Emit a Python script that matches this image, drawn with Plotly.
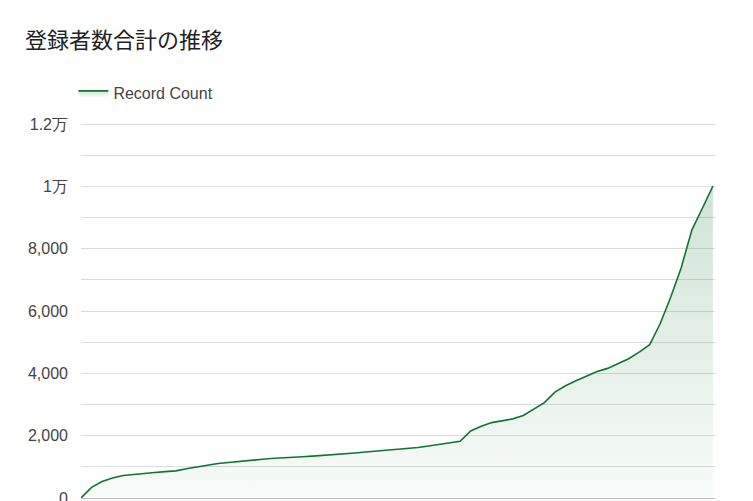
import plotly.graph_objects as go

# days since start (x is hidden in the reference, it is cropped at the bottom)
days = list(range(0, 61))
record_count = [0, 340, 530, 640, 720, 760, 795, 820, 845, 870,
                940, 1000, 1070, 1110, 1140, 1165, 1195, 1235, 1270, 1295,
                1310, 1325, 1345, 1365, 1385, 1415, 1445, 1475, 1500, 1525,
                1550, 1575, 1620, 1670, 1720, 1770, 1820, 2150, 2300, 2420,
                2480, 2540, 2650, 2850, 3060, 3400, 3600, 3760, 3900, 4060,
                4160, 4320, 4470, 4680, 4920, 5600, 6450, 7400, 8600, 9300,
                10010]

tick_vals = [0, 2000, 4000, 6000, 8000, 10000, 12000]
tick_text = ['0', '2,000', '4,000', '6,000', '8,000', '1万', '1.2万']

line_col = '#137333'

fig = go.Figure()
fig.add_trace(go.Scatter(
    x=days, y=record_count,
    mode='lines',
    name='Record Count',
    line=dict(color=line_col, width=1.6),
    fill='tozeroy',
    fillgradient=dict(type='vertical',
                      colorscale=[[0, 'rgba(19,115,51,0.03)'],
                                  [1, 'rgba(19,115,51,0.20)']]),
))

# page body has an 8px margin, so the figure is a bit smaller than the window
# y range goes a little past 12000 so the top gridline is still drawn
fig.update_layout(
    width=745, height=493,
    margin=dict(l=73, r=38, t=113, b=3, autoexpand=False),
    plot_bgcolor='white', paper_bgcolor='white',
    title=dict(text='登録者数合計の推移', x=17/745, xanchor='left',
               y=1 - 32/493, yanchor='middle',
               font=dict(family='Noto Sans CJK JP', size=22, color='#202124')),
    showlegend=True,
    legend=dict(orientation='h', x=-0.012, xanchor='left', y=1 + 28/377, yanchor='middle',
                font=dict(family='Liberation Sans', size=16, color='#444444'),
                itemwidth=30),
    xaxis=dict(range=[0, 60.2], showgrid=False, showticklabels=False,
               zeroline=False, showline=False, ticks='', automargin=False),
    yaxis=dict(range=[0, 12100], tickvals=tick_vals, ticktext=tick_text,
               showgrid=True, gridcolor='#dadce0', gridwidth=1,
               minor=dict(dtick=1000, showgrid=True, gridcolor='#dadce0'),
               zeroline=True, zerolinecolor='#bdbdbd', zerolinewidth=1,
               ticks='', ticklabelstandoff=12, ticklabeloverflow='allow',
               automargin=False,
               tickfont=dict(family='Liberation Sans', size=16, color='#444444')),
)

fig.write_html("out.html")
